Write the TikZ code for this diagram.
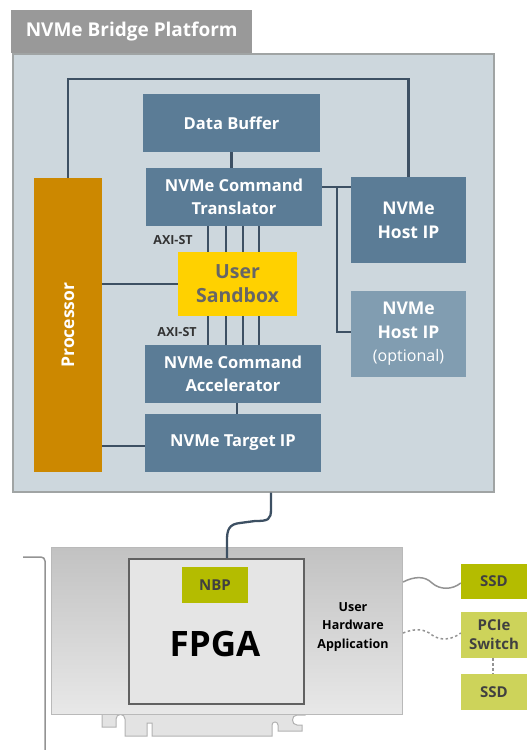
\documentclass[tikz,border=0pt]{standalone}
\usepackage{fontspec}
\setmainfont{Open Sans}
\definecolor{boxblue}{HTML}{5B7C96}
\definecolor{optblue}{HTML}{819DB1}
\definecolor{busc}{HTML}{3D5063}
\definecolor{procc}{HTML}{CC8800}
\definecolor{sandc}{HTML}{FFD100}
\definecolor{mainfill}{HTML}{CDD7DD}
\definecolor{mainedge}{HTML}{A0A4A4}
\definecolor{tabc}{HTML}{999999}
\definecolor{nbpc}{HTML}{B4BC00}
\definecolor{lightg}{HTML}{CDD35A}
\definecolor{darkt}{HTML}{404040}
\begin{document}
\begin{tikzpicture}[x=1pt,y=-1pt,
  blk/.style={fill=boxblue,text=white,font=\bfseries\fontsize{16.5}{23}\selectfont,align=center,inner sep=0pt},
  bus/.style={draw=busc,line width=2.3pt},
  grn/.style={fill=nbpc,text=darkt,font=\bfseries\fontsize{15}{19}\selectfont,align=center,inner sep=0pt,minimum width=66pt},
  lgrn/.style={grn,fill=lightg},
  axi/.style={text=darkt!80!black,font=\bfseries\fontsize{12.5}{14}\selectfont,inner sep=0pt}
]
\useasboundingbox (0,0) rectangle (527,750);
% platform
\node[fill=tabc,minimum width=241pt,minimum height=43pt,inner sep=0pt,anchor=north west] (tab) at (11,10) {};
\node[text=white,font=\bfseries\fontsize{19}{22}\selectfont,inner sep=0pt] (title) at (tab.center) {NVMe Bridge Platform};
\node[fill=mainfill,draw=mainedge,line width=1.5pt,minimum width=481pt,minimum height=438pt,inner sep=0pt,anchor=north west] (main) at (12,53) {};
% blocks
\node[blk,minimum width=177pt,minimum height=58pt] (db) at (231.5,123) {Data Buffer};
\node[blk,minimum width=176pt,minimum height=58pt] (tr) at (234,197) {NVMe Command\\Translator};
\node[fill=procc,minimum width=68pt,minimum height=294pt,inner sep=0pt] (proc) at (68,325) {};
\node[text=white,font=\bfseries\fontsize{17.5}{20}\selectfont,rotate=90,inner sep=0pt] (proclbl) at (proc.center) {Processor};
\node[blk,font=\bfseries\fontsize{17.5}{24}\selectfont,minimum width=115pt,minimum height=86pt] (host) at (408.5,220) {NVMe\\Host IP};
\node[blk,font=\bfseries\fontsize{17.5}{23.5}\selectfont,fill=optblue,minimum width=115pt,minimum height=86pt] (hopt) at (408.5,334) {NVMe\\Host IP\\{\mdseries\fontsize{16}{22}\selectfont(optional)}};
\node[fill=sandc,text=black!60,font=\bfseries\fontsize{19.5}{24}\selectfont,align=center,inner sep=0pt,minimum width=119pt,minimum height=64pt] (sb) at (237.5,284) {User\\Sandbox};
\node[blk,minimum width=176pt,minimum height=58pt] (acc) at (233,374) {NVMe Command\\Accelerator};
\node[blk,minimum width=176pt,minimum height=58pt] (tgt) at (233,443) {NVMe Target IP};
\node[axi] (axi1) at (173,240) {AXI-ST};
\node[axi] (axi2) at (177,332) {AXI-ST};
% connectors
\draw[bus] (proc.north) -- (proc.north |- 0,79) -| (host.north);
\draw[bus] (db.south) -- (db.south |- tr.north);
\draw[bus] ([yshift=10pt]tr.east) -- ([yshift=10pt]tr.east -| host.west);
\draw[bus] ([yshift=10pt]tr.east -| 337,0) |- ([yshift=2pt]hopt.west);
\draw[bus] (sb.west) -- (sb.west -| proc.east);
\foreach \xx in {208,226,243,259}{
  \draw[bus] (tr.south -| \xx,0) -- (sb.north -| \xx,0);
  \draw[bus] (sb.south -| \xx,0) -- (acc.north -| \xx,0);
}
\draw[bus] (acc.south -| 237,0) -- (tgt.north -| 237,0);
\draw[bus] ([yshift=-3pt]tgt.west) -- ([yshift=-3pt]tgt.west -| proc.east);
% card
\path[fill=gray!22,draw=gray!60,line width=1pt]
  (102,713) -- (102,727) -- (116,727) -- (116,719) .. controls (116,713) and (125,713) .. (125,719)
  -- (125,736) -- (147,736) -- (147,723) -- (152,723) -- (152,736) -- (272,736) -- (272,725)
  .. controls (272,721) and (278,721) .. (278,725) -- (278,731) -- (302,731) -- (302,725) -- (297,725)
  .. controls (291,725) and (291,715) .. (297,715) -- (305,715) -- (305,713);
\node[top color=black!24,bottom color=black!9,draw=gray!55,line width=1pt,minimum width=351pt,minimum height=167pt,inner sep=0pt,anchor=north west] (card) at (51,547) {};
\draw[draw=gray!85,line width=1.5pt,rounded corners=4pt] (23,557) -- (45,557) -- (45,751);
\node[fill=black!10,draw=black!62,line width=1.5pt,minimum width=175pt,minimum height=145pt,inner sep=0pt,anchor=north west] (fpga) at (128,558) {};
\node[font=\bfseries\fontsize{35}{40}\selectfont,inner sep=0pt] (fpgalbl) at (215,644) {FPGA};
\node[grn,minimum height=36pt] (nbp) at (215,585) {NBP};
\node[font=\bfseries\fontsize{12.5}{18.5}\selectfont,align=center,inner sep=0pt] (uha) at (353,627) {User\\Hardware\\Application};
\draw[busc,line width=2.3pt,line join=round] (main.south -| 271,0) -- (271,509) .. controls (271,520) and (268,521) .. (255,521)
  -- (240,523) .. controls (229,524) and (227,530) .. (227,540) -- (fpga.north -| 227,0);
% storage
\node[grn,minimum height=35pt] (ssd1) at (494,581.5) {SSD};
\node[lgrn,minimum height=46pt] (pcie) at (494,635) {PCIe\\Switch};
\node[lgrn,minimum height=36pt] (ssd2) at (494,692) {SSD};
\draw[gray!85,line width=1.5pt] (card.east |- 0,582) .. controls (415,576) and (425,576) .. (432,583) .. controls (440,590) and (452,590) .. (ssd1.west |- 0,583);
\draw[gray!85,line width=1.5pt,dash pattern=on 2.5pt off 2.5pt] (card.east |- 0,633) .. controls (415,628) and (425,629) .. (432,635) .. controls (440,641) and (452,640) .. (pcie.west |- 0,633);
\draw[gray!85,line width=1.5pt,dash pattern=on 2.5pt off 2.5pt] (pcie.south -| 493,0) -- (ssd2.north -| 493,0);
\end{tikzpicture}
\end{document}
